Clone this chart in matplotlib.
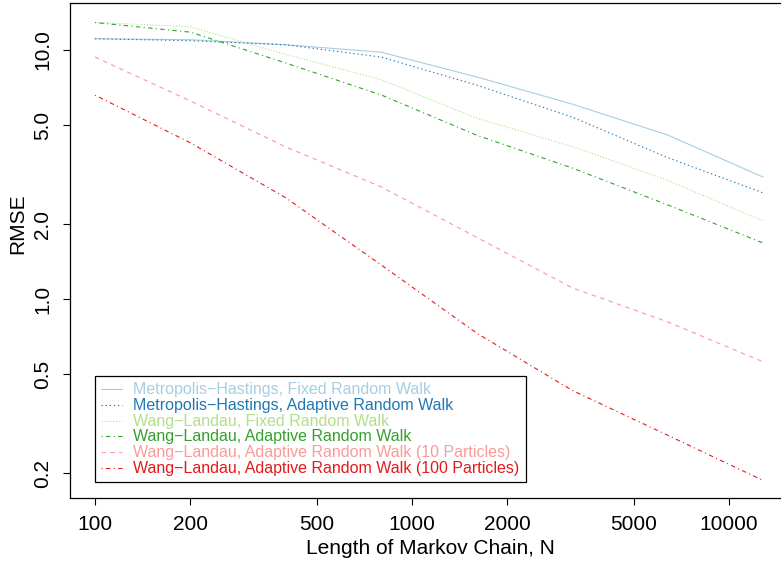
import matplotlib
matplotlib.use("Agg")
import matplotlib.pyplot as plt
from matplotlib.ticker import FixedLocator, FixedFormatter, NullLocator

plt.rcParams['font.family'] = ['Liberation Sans', 'DejaVu Sans']

# chain lengths and RMSE values
chain_length = [100, 200, 400, 800, 1600, 3200, 6400, 12800]
mh_fixed = [11.1, 11.0, 10.5, 9.8, 7.8, 6.07, 4.56, 3.09]
mh_adaptive = [11.1, 10.9, 10.5, 9.37, 7.23, 5.38, 3.7, 2.67]
wl_fixed = [12.9, 12.4, 9.6, 7.6, 5.33, 4.1, 3.0, 2.06]
wl_adaptive = [12.9, 11.8, 8.87, 6.6, 4.55, 3.36, 2.39, 1.68]
wl_10 = [9.37, 6.24, 4.08, 2.82, 1.77, 1.11, 0.81, 0.56]
wl_100 = [6.59, 4.24, 2.55, 1.37, 0.73, 0.43, 0.284, 0.187]

labels = ["Metropolis\u2212Hastings, Fixed Random Walk",
          "Metropolis\u2212Hastings, Adaptive Random Walk",
          "Wang\u2212Landau, Fixed Random Walk",
          "Wang\u2212Landau, Adaptive Random Walk",
          "Wang\u2212Landau, Adaptive Random Walk (10 Particles)",
          "Wang\u2212Landau, Adaptive Random Walk (100 Particles)"]
colors = ["#A6CEE3", "#1F78B4", "#B2DF8A", "#33A02C", "#FB9A99", "#E31A1C"]
styles = ["-", (0, (1.2, 2.5)), (0, (1, 1.6)), (0, (1, 3, 4, 3)),
          (0, (4, 4)), (0, (1, 3, 4, 3))]

xticks = [100, 200, 500, 1000, 2000, 5000, 10000]
yticks = [0.2, 0.5, 1.0, 2.0, 5.0, 10.0]

W, H = 781, 566
fig = plt.figure(figsize=(W / 100, H / 100), dpi=100)
ax = fig.add_axes([70 / W, 1 - 498 / H, (792 - 70) / W, (498 - 3) / H])

series = [mh_fixed, mh_adaptive, wl_fixed, wl_adaptive, wl_10, wl_100]
for vals, lab, c, ls in zip(series, labels, colors, styles):
    ax.plot(chain_length, vals, color=c, linestyle=ls, lw=0.8, label=lab)

ax.set_xscale("log")
ax.set_yscale("log")
ax.set_xlim(83.4, 15800)
ax.set_ylim(0.1589, 15.45)

ax.xaxis.set_major_locator(FixedLocator(xticks))
ax.xaxis.set_major_formatter(FixedFormatter([str(t) for t in xticks]))
ax.xaxis.set_minor_locator(NullLocator())
ax.yaxis.set_major_locator(FixedLocator(yticks))
ax.yaxis.set_major_formatter(FixedFormatter(["%.1f" % t for t in yticks]))
ax.yaxis.set_minor_locator(NullLocator())

ax.tick_params(axis="both", direction="out", length=5, width=0.8,
               labelsize=15, color="black")
ax.tick_params(axis="x", pad=7)
ax.tick_params(axis="y", pad=8)
for lab in ax.get_yticklabels():
    lab.set_rotation(90)
    lab.set_va("center")

for sp in ax.spines.values():
    sp.set_linewidth(0.9)
    sp.set_color("black")

fig.text(18 / W, 1 - 224 / H, "RMSE", rotation=90, ha="center", va="center",
         fontsize=15)
fig.text(430 / W, 1 - 548 / H, "Length of Markov Chain, N", ha="center",
         va="center", fontsize=15)

leg = ax.legend(loc="lower left", bbox_to_anchor=(95 / W, 1 - 482 / H),
                bbox_transform=fig.transFigure, borderaxespad=0,
                fontsize=11.5, labelcolor="linecolor", fancybox=False,
                edgecolor="black", framealpha=1, handlelength=1.3,
                handleheight=0.5, handletextpad=0.7, labelspacing=0.04,
                borderpad=0.4)
leg.get_frame().set_linewidth(0.9)

fig.savefig("out.png", dpi=100)
